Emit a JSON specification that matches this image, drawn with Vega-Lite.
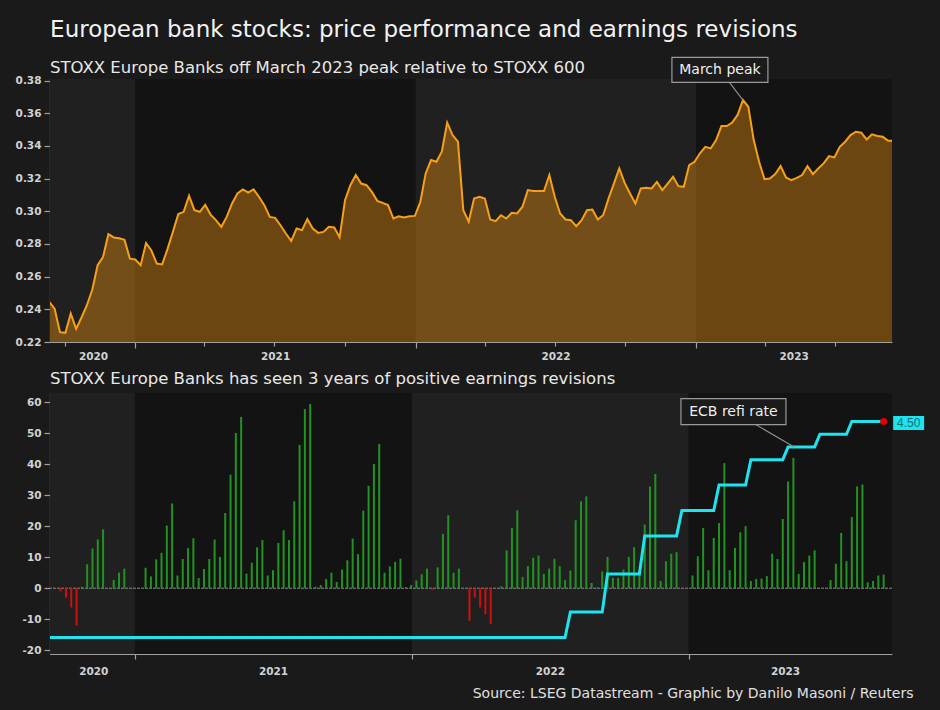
{
  "$schema": "https://vega.github.io/schema/vega-lite/v6.json",
  "background": "#1a1a1a",
  "padding": {"left": 15, "top": 18, "right": 22, "bottom": 10},
  "title": {"text": "European bank stocks: price performance and earnings revisions", "anchor": "start", "frame": "bounds", "dx": 35, "fontSize": 23, "fontWeight": "normal", "color": "#f2f2f2", "font": "DejaVu Sans", "offset": 15},
  "config": {
    "font": "DejaVu Sans",
    "view": {"stroke": null},
    "axis": {"domainColor": "#a0a0a0", "tickColor": "#a0a0a0", "labelColor": "#d2d2d2", "labelFont": "DejaVu Sans", "labelFontWeight": "bold", "labelFontSize": 10.5, "grid": false, "domainWidth": 1.2, "tickWidth": 1.2, "labelOverlap": false}
  },
  "spacing": 6,
  "datasets": {
    "bands": [
      {"date": "2020-09-01", "end": "2021-01-01", "shade": "light"},
      {"date": "2021-01-01", "end": "2022-01-01", "shade": "dark"},
      {"date": "2022-01-01", "end": "2023-01-01", "shade": "light"},
      {"date": "2023-01-01", "end": "2023-12-31", "shade": "dark"}
    ],
    "notes": [
      {"panel": "top", "date": "2023-02-01", "value": 0.3866, "label": "March peak", "tdate": "2023-03-03", "tvalue": 0.3681},
      {"panel": "bottom", "date": "2023-03-01", "value": 4.445, "label": "ECB refi rate", "tdate": "2023-05-20", "tvalue": 3.75}
    ],
    "rate": [
      {"date": "2020-09-11", "rate": 0},
      {"date": "2022-07-22", "rate": 0},
      {"date": "2022-07-29", "rate": 0.5},
      {"date": "2022-09-09", "rate": 0.5},
      {"date": "2022-09-16", "rate": 1.25},
      {"date": "2022-10-28", "rate": 1.25},
      {"date": "2022-11-04", "rate": 2.0},
      {"date": "2022-12-16", "rate": 2.0},
      {"date": "2022-12-23", "rate": 2.5},
      {"date": "2023-02-03", "rate": 2.5},
      {"date": "2023-02-10", "rate": 3.0},
      {"date": "2023-03-17", "rate": 3.0},
      {"date": "2023-03-24", "rate": 3.5},
      {"date": "2023-05-05", "rate": 3.5},
      {"date": "2023-05-12", "rate": 3.75},
      {"date": "2023-06-16", "rate": 3.75},
      {"date": "2023-06-23", "rate": 4.0},
      {"date": "2023-07-28", "rate": 4.0},
      {"date": "2023-08-04", "rate": 4.25},
      {"date": "2023-09-15", "rate": 4.25, "label": "4.50"}
    ],
    "weekly": [
      {"date": "2020-09-11", "price": 0.2445, "rev": 0},
      {"date": "2020-09-18", "price": 0.2404, "rev": 0},
      {"date": "2020-09-25", "price": 0.226, "rev": -1},
      {"date": "2020-10-02", "price": 0.2256, "rev": -3},
      {"date": "2020-10-09", "price": 0.2374, "rev": -6.2},
      {"date": "2020-10-16", "price": 0.228, "rev": -12},
      {"date": "2020-10-23", "price": 0.235, "rev": 0.5},
      {"date": "2020-10-30", "price": 0.2425, "rev": 7.7},
      {"date": "2020-11-06", "price": 0.252, "rev": 12.8},
      {"date": "2020-11-13", "price": 0.267, "rev": 15.7},
      {"date": "2020-11-20", "price": 0.272, "rev": 19},
      {"date": "2020-11-27", "price": 0.286, "rev": 0},
      {"date": "2020-12-04", "price": 0.284, "rev": 2.7},
      {"date": "2020-12-11", "price": 0.2835, "rev": 5},
      {"date": "2020-12-18", "price": 0.2825, "rev": 6.3},
      {"date": "2020-12-25", "price": 0.271, "rev": 0},
      {"date": "2021-01-01", "price": 0.2705, "rev": 0},
      {"date": "2021-01-08", "price": 0.267, "rev": 0},
      {"date": "2021-01-15", "price": 0.2806, "rev": 6.6},
      {"date": "2021-01-22", "price": 0.276, "rev": 3.8},
      {"date": "2021-01-29", "price": 0.268, "rev": 9.3},
      {"date": "2021-02-05", "price": 0.2675, "rev": 11.4},
      {"date": "2021-02-12", "price": 0.277, "rev": 20.2},
      {"date": "2021-02-19", "price": 0.2875, "rev": 27.3},
      {"date": "2021-02-26", "price": 0.2983, "rev": 4.1},
      {"date": "2021-03-05", "price": 0.2997, "rev": 9.4},
      {"date": "2021-03-12", "price": 0.3095, "rev": 12.9},
      {"date": "2021-03-19", "price": 0.3007, "rev": 16.1},
      {"date": "2021-03-26", "price": 0.2997, "rev": 3.3},
      {"date": "2021-04-02", "price": 0.304, "rev": 6.2},
      {"date": "2021-04-09", "price": 0.298, "rev": 9.4},
      {"date": "2021-04-16", "price": 0.2946, "rev": 15.7},
      {"date": "2021-04-23", "price": 0.2905, "rev": 10.1},
      {"date": "2021-04-30", "price": 0.2966, "rev": 24.2},
      {"date": "2021-05-07", "price": 0.3048, "rev": 36.6},
      {"date": "2021-05-14", "price": 0.311, "rev": 50},
      {"date": "2021-05-21", "price": 0.3134, "rev": 55.2},
      {"date": "2021-05-28", "price": 0.3114, "rev": 4.7},
      {"date": "2021-06-04", "price": 0.3134, "rev": 8.2},
      {"date": "2021-06-11", "price": 0.3089, "rev": 13.2},
      {"date": "2021-06-18", "price": 0.3038, "rev": 15.5},
      {"date": "2021-06-25", "price": 0.2966, "rev": 4.1},
      {"date": "2021-07-02", "price": 0.296, "rev": 5.8},
      {"date": "2021-07-09", "price": 0.2915, "rev": 14.6},
      {"date": "2021-07-16", "price": 0.2864, "rev": 18.7},
      {"date": "2021-07-23", "price": 0.2819, "rev": 15.5},
      {"date": "2021-07-30", "price": 0.2895, "rev": 28},
      {"date": "2021-08-06", "price": 0.2885, "rev": 46.2},
      {"date": "2021-08-13", "price": 0.2952, "rev": 57.7},
      {"date": "2021-08-20", "price": 0.2895, "rev": 59.4},
      {"date": "2021-08-27", "price": 0.2868, "rev": 0.5},
      {"date": "2021-09-03", "price": 0.2874, "rev": 1},
      {"date": "2021-09-10", "price": 0.2905, "rev": 3},
      {"date": "2021-09-17", "price": 0.2901, "rev": 5},
      {"date": "2021-09-24", "price": 0.284, "rev": 2},
      {"date": "2021-10-01", "price": 0.3068, "rev": 6},
      {"date": "2021-10-08", "price": 0.316, "rev": 9},
      {"date": "2021-10-15", "price": 0.3222, "rev": 16},
      {"date": "2021-10-22", "price": 0.317, "rev": 11},
      {"date": "2021-10-29", "price": 0.316, "rev": 25},
      {"date": "2021-11-05", "price": 0.3119, "rev": 33},
      {"date": "2021-11-12", "price": 0.3064, "rev": 40},
      {"date": "2021-11-19", "price": 0.3052, "rev": 46.5},
      {"date": "2021-11-26", "price": 0.3038, "rev": 5},
      {"date": "2021-12-03", "price": 0.2956, "rev": 7},
      {"date": "2021-12-10", "price": 0.297, "rev": 8.5},
      {"date": "2021-12-17", "price": 0.2962, "rev": 9.5},
      {"date": "2021-12-24", "price": 0.297, "rev": 0.3},
      {"date": "2021-12-31", "price": 0.2972, "rev": 1},
      {"date": "2022-01-07", "price": 0.3056, "rev": 2.5},
      {"date": "2022-01-14", "price": 0.3232, "rev": 4.5},
      {"date": "2022-01-21", "price": 0.3314, "rev": 6.3},
      {"date": "2022-01-28", "price": 0.3303, "rev": -0.5},
      {"date": "2022-02-04", "price": 0.3365, "rev": 6.7},
      {"date": "2022-02-11", "price": 0.3543, "rev": 17.5},
      {"date": "2022-02-18", "price": 0.3467, "rev": 23.5},
      {"date": "2022-02-25", "price": 0.3426, "rev": 5},
      {"date": "2022-03-04", "price": 0.3007, "rev": 6.3},
      {"date": "2022-03-11", "price": 0.2936, "rev": 0},
      {"date": "2022-03-18", "price": 0.3078, "rev": -10.5},
      {"date": "2022-03-25", "price": 0.3089, "rev": -3},
      {"date": "2022-04-01", "price": 0.3078, "rev": -6.2},
      {"date": "2022-04-08", "price": 0.295, "rev": -8.4},
      {"date": "2022-04-15", "price": 0.294, "rev": -11.6},
      {"date": "2022-04-22", "price": 0.2976, "rev": 0},
      {"date": "2022-04-29", "price": 0.2956, "rev": 0.6},
      {"date": "2022-05-06", "price": 0.2991, "rev": 12.2},
      {"date": "2022-05-13", "price": 0.2987, "rev": 19.4},
      {"date": "2022-05-20", "price": 0.3028, "rev": 25.1},
      {"date": "2022-05-27", "price": 0.313, "rev": 3.6},
      {"date": "2022-06-03", "price": 0.3124, "rev": 7.1},
      {"date": "2022-06-10", "price": 0.3124, "rev": 9.8},
      {"date": "2022-06-17", "price": 0.3124, "rev": 10.5},
      {"date": "2022-06-24", "price": 0.3222, "rev": 4.6},
      {"date": "2022-07-01", "price": 0.3089, "rev": 6.3},
      {"date": "2022-07-08", "price": 0.2987, "rev": 9.5},
      {"date": "2022-07-15", "price": 0.295, "rev": 7.1},
      {"date": "2022-07-22", "price": 0.2946, "rev": 2.6},
      {"date": "2022-07-29", "price": 0.2909, "rev": 5.7},
      {"date": "2022-08-05", "price": 0.2946, "rev": 21.9},
      {"date": "2022-08-12", "price": 0.3007, "rev": 28},
      {"date": "2022-08-19", "price": 0.3011, "rev": 29.6},
      {"date": "2022-08-26", "price": 0.295, "rev": 1.7},
      {"date": "2022-09-02", "price": 0.2976, "rev": 0.2},
      {"date": "2022-09-09", "price": 0.3078, "rev": 5.4},
      {"date": "2022-09-16", "price": 0.317, "rev": 10.1},
      {"date": "2022-09-23", "price": 0.3262, "rev": 3.3},
      {"date": "2022-09-30", "price": 0.3174, "rev": 3.3},
      {"date": "2022-10-07", "price": 0.3109, "rev": 6},
      {"date": "2022-10-14", "price": 0.3048, "rev": 10.1},
      {"date": "2022-10-21", "price": 0.314, "rev": 13.2},
      {"date": "2022-10-28", "price": 0.3144, "rev": 5.5},
      {"date": "2022-11-04", "price": 0.314, "rev": 20.5},
      {"date": "2022-11-11", "price": 0.318, "rev": 32.8},
      {"date": "2022-11-18", "price": 0.313, "rev": 36.8},
      {"date": "2022-11-25", "price": 0.317, "rev": 2.3},
      {"date": "2022-12-02", "price": 0.3211, "rev": 8.7},
      {"date": "2022-12-09", "price": 0.3154, "rev": 11.1},
      {"date": "2022-12-16", "price": 0.315, "rev": 11.6},
      {"date": "2022-12-23", "price": 0.3283, "rev": 0},
      {"date": "2022-12-30", "price": 0.3303, "rev": 0},
      {"date": "2023-01-06", "price": 0.3355, "rev": 4.1},
      {"date": "2023-01-13", "price": 0.3395, "rev": 10.3},
      {"date": "2023-01-20", "price": 0.3385, "rev": 19.4},
      {"date": "2023-01-27", "price": 0.3436, "rev": 5.8},
      {"date": "2023-02-03", "price": 0.3522, "rev": 16.2},
      {"date": "2023-02-10", "price": 0.3522, "rev": 21},
      {"date": "2023-02-17", "price": 0.3543, "rev": 40.3},
      {"date": "2023-02-24", "price": 0.359, "rev": 5.8},
      {"date": "2023-03-03", "price": 0.3681, "rev": 13},
      {"date": "2023-03-10", "price": 0.364, "rev": 18},
      {"date": "2023-03-17", "price": 0.3436, "rev": 20},
      {"date": "2023-03-24", "price": 0.3303, "rev": 2.3},
      {"date": "2023-03-31", "price": 0.3197, "rev": 3},
      {"date": "2023-04-07", "price": 0.3201, "rev": 3.1},
      {"date": "2023-04-14", "price": 0.3228, "rev": 3.9},
      {"date": "2023-04-21", "price": 0.3277, "rev": 11.1},
      {"date": "2023-04-28", "price": 0.3207, "rev": 9.4},
      {"date": "2023-05-05", "price": 0.3191, "rev": 22.3},
      {"date": "2023-05-12", "price": 0.3205, "rev": 34.4},
      {"date": "2023-05-19", "price": 0.3222, "rev": 42},
      {"date": "2023-05-26", "price": 0.3277, "rev": 4.6},
      {"date": "2023-06-02", "price": 0.3228, "rev": 8.4},
      {"date": "2023-06-09", "price": 0.3262, "rev": 10.5},
      {"date": "2023-06-16", "price": 0.3293, "rev": 12.2},
      {"date": "2023-06-23", "price": 0.3338, "rev": 0},
      {"date": "2023-06-30", "price": 0.333, "rev": 0},
      {"date": "2023-07-07", "price": 0.3395, "rev": 2.6},
      {"date": "2023-07-14", "price": 0.3426, "rev": 7.9},
      {"date": "2023-07-21", "price": 0.3467, "rev": 17.8},
      {"date": "2023-07-28", "price": 0.3487, "rev": 8.7},
      {"date": "2023-08-04", "price": 0.3481, "rev": 22.9},
      {"date": "2023-08-11", "price": 0.344, "rev": 32.8},
      {"date": "2023-08-18", "price": 0.3471, "rev": 33.4},
      {"date": "2023-08-25", "price": 0.3461, "rev": 1.9},
      {"date": "2023-09-01", "price": 0.3456, "rev": 2.3},
      {"date": "2023-09-08", "price": 0.3432, "rev": 4.1},
      {"date": "2023-09-15", "price": 0.3432, "rev": 4.4}
    ]
  },
  "vconcat": [
    {
      "width": 842,
      "height": 263,
      "title": {"text": "STOXX Europe Banks off March 2023 peak relative to STOXX 600", "anchor": "start", "frame": "group", "fontSize": 16.5, "fontWeight": "normal", "color": "#e8e8e8", "offset": -19.5},
      "layer": [
        {
          "data": {"name": "bands"},
          "mark": {"type": "rect", "clip": true},
          "encoding": {
            "x": {"field": "date", "type": "temporal"},
            "x2": {"field": "end"},
            "color": {"condition": {"test": "datum.shade == 'light'", "value": "#202020"}, "value": "#131313"}
          }
        },
        {
          "data": {"name": "weekly"},
          "mark": {"type": "area", "clip": true, "color": "#f39410", "opacity": 0.4},
          "encoding": {
            "x": {
              "field": "date", "type": "temporal",
              "scale": {"domain": [{"year": 2020, "month": 9, "date": 12}, {"year": 2023, "month": 9, "date": 13}], "padding": 0},
              "axis": {
                "title": null,
                "tickCount": 60,
                "values": [
                  {"year": 2020, "month": 10, "date": 1}, {"year": 2021, "month": 1, "date": 1}, {"year": 2021, "month": 4, "date": 1}, {"year": 2021, "month": 7, "date": 1},
                  {"year": 2021, "month": 10, "date": 1}, {"year": 2022, "month": 1, "date": 1}, {"year": 2022, "month": 4, "date": 1}, {"year": 2022, "month": 7, "date": 1},
                  {"year": 2022, "month": 10, "date": 1}, {"year": 2023, "month": 1, "date": 1}, {"year": 2023, "month": 4, "date": 1}, {"year": 2023, "month": 7, "date": 1},
                  {"year": 2020, "month": 11, "date": 7}, {"year": 2021, "month": 7, "date": 2}, {"year": 2022, "month": 7, "date": 2}, {"year": 2023, "month": 5, "date": 8}
                ],
                "labelExpr": "date(datum.value) == 1 ? '' : timeFormat(datum.value, '%Y')",
                "tickOpacity": {"condition": {"test": "date(datum.value) != 1", "value": 0}, "value": 1},
                "tickSize": {"condition": {"test": "month(datum.value) == 0 && date(datum.value) == 1", "value": 6}, "value": 4},
                "labelPadding": 5,
                "labelOverlap": false,
                "labelFlush": false,
                "labelBound": false
              }
            },
            "y": {
              "field": "price", "type": "quantitative",
              "scale": {"domain": [0.22, 0.381], "nice": false, "zero": false, "padding": 0},
              "axis": {"title": null, "tickCount": 40, "values": [0.22, 0.24, 0.26, 0.28, 0.3, 0.32, 0.34, 0.36, 0.38], "format": ".2f", "tickSize": 6, "labelPadding": 3, "labelOverlap": false}
            },
            "y2": {"datum": 0.22}
          }
        },
        {
          "data": {"name": "weekly"},
          "mark": {"type": "line", "clip": true, "color": "#f6a01a", "strokeWidth": 2},
          "encoding": {
            "x": {"field": "date", "type": "temporal"},
            "y": {"field": "price", "type": "quantitative"}
          }
        },
        {
          "data": {"name": "notes"},
          "transform": [{"filter": "datum.panel == 'top'"}],
          "mark": {"type": "rule", "color": "#8c8c8c", "strokeWidth": 1.2},
          "encoding": {
            "x": {"field": "date", "type": "temporal"},
            "x2": {"field": "tdate"},
            "y": {"field": "value", "type": "quantitative"},
            "y2": {"field": "tvalue"}
          }
        },
        {
          "data": {"name": "notes"},
          "transform": [{"filter": "datum.panel == 'top'"}],
          "mark": {"type": "rect", "width": 96, "height": 25, "fill": "#1b1b1b", "stroke": "#9a9a9a", "strokeWidth": 1.2},
          "encoding": {
            "x": {"field": "date", "type": "temporal"},
            "y": {"field": "value", "type": "quantitative"}
          }
        },
        {
          "data": {"name": "notes"},
          "transform": [{"filter": "datum.panel == 'top'"}],
          "mark": {"type": "text", "color": "#f0f0f0", "fontSize": 14, "align": "center", "baseline": "middle"},
          "encoding": {
            "x": {"field": "date", "type": "temporal"},
            "y": {"field": "value", "type": "quantitative"},
            "text": {"field": "label"}
          }
        }
      ]
    },
    {
      "width": 842,
      "height": 261,
      "title": {"text": "STOXX Europe Banks has seen 3 years of positive earnings revisions", "anchor": "start", "frame": "group", "fontSize": 16.5, "fontWeight": "normal", "color": "#e8e8e8", "offset": 6},
      "resolve": {"scale": {"y": "independent"}},
      "layer": [
        {
          "layer": [
            {
              "data": {"name": "bands"},
              "mark": {"type": "rect", "clip": true},
              "encoding": {
                "x": {"field": "date", "type": "temporal"},
                "x2": {"field": "end"},
                "color": {"condition": {"test": "datum.shade == 'light'", "value": "#202020"}, "value": "#131313"}
              }
            },
            {
              "data": {"values": [{}]},
              "mark": {"type": "rule", "color": "#8a8a8a", "strokeWidth": 1, "strokeDash": [3, 1]},
              "encoding": {"y": {"datum": 0}}
            },
            {
              "data": {"name": "weekly"},
              "mark": {"type": "bar", "size": 2, "clip": true},
              "encoding": {
                "x": {
                  "field": "date", "type": "temporal",
                  "scale": {"domain": [{"year": 2020, "month": 9, "date": 11}, {"year": 2023, "month": 9, "date": 26}], "padding": 0},
                  "axis": {
                    "title": "Source: LSEG Datastream - Graphic by Danilo Masoni / Reuters",
                    "titleAnchor": "end", "titleAlign": "right", "titleX": 863, "titleY": 43, "titleBaseline": "alphabetic",
                    "titleFontSize": 14, "titleFontWeight": "normal", "titleColor": "#e0e0e0", "titleFont": "DejaVu Sans",
                    "tickCount": 60,
                    "values": [
                      {"year": 2021, "month": 1, "date": 1}, {"year": 2022, "month": 1, "date": 1}, {"year": 2023, "month": 1, "date": 1},
                      {"year": 2020, "month": 11, "date": 7}, {"year": 2021, "month": 7, "date": 2}, {"year": 2022, "month": 7, "date": 2}, {"year": 2023, "month": 5, "date": 8}
                    ],
                    "labelExpr": "date(datum.value) == 1 ? '' : timeFormat(datum.value, '%Y')",
                    "tickOpacity": {"condition": {"test": "date(datum.value) != 1", "value": 0}, "value": 1},
                    "tickSize": 5,
                    "labelPadding": 7,
                    "labelOverlap": false,
                    "labelFlush": false,
                    "labelBound": false
                  }
                },
                "y": {
                  "field": "rev", "type": "quantitative",
                  "scale": {"domain": [-21.2, 62.9], "nice": false, "zero": false, "padding": 0},
                  "axis": {"title": null, "tickCount": 40, "values": [-20, -10, 0, 10, 20, 30, 40, 50, 60], "labelExpr": "'' + datum.value", "tickSize": 6, "labelPadding": 3, "labelOverlap": false}
                },
                "color": {"condition": {"test": "datum.rev < 0", "value": "#d01010"}, "value": "#229322"}
              }
            }
          ]
        },
        {
          "layer": [
            {
              "data": {"name": "rate"},
              "mark": {"type": "line", "color": "#1de4ee", "strokeWidth": 3},
              "encoding": {
                "x": {"field": "date", "type": "temporal"},
                "y": {"field": "rate", "type": "quantitative", "scale": {"domain": [-0.324, 4.811], "nice": false, "zero": false, "padding": 0}, "axis": null}
              }
            },
            {
              "data": {"name": "notes"},
              "transform": [{"filter": "datum.panel == 'bottom'"}],
              "mark": {"type": "rule", "color": "#8c8c8c", "strokeWidth": 1.2},
              "encoding": {
                "x": {"field": "date", "type": "temporal"},
                "x2": {"field": "tdate"},
                "y": {"field": "value", "type": "quantitative"},
                "y2": {"field": "tvalue"}
              }
            },
            {
              "data": {"name": "notes"},
              "transform": [{"filter": "datum.panel == 'bottom'"}],
              "mark": {"type": "rect", "width": 105, "height": 26, "fill": "#1b1b1b", "stroke": "#9a9a9a", "strokeWidth": 1.2},
              "encoding": {
                "x": {"field": "date", "type": "temporal"},
                "y": {"field": "value", "type": "quantitative"}
              }
            },
            {
              "data": {"name": "notes"},
              "transform": [{"filter": "datum.panel == 'bottom'"}],
              "mark": {"type": "text", "color": "#f0f0f0", "fontSize": 14, "align": "center", "baseline": "middle"},
              "encoding": {
                "x": {"field": "date", "type": "temporal"},
                "y": {"field": "value", "type": "quantitative"},
                "text": {"field": "label"}
              }
            },
            {
              "data": {"name": "rate"},
              "transform": [{"filter": "datum.label != null"}],
              "mark": {"type": "point", "filled": true, "color": "#e00000", "size": 50, "opacity": 1},
              "encoding": {
                "x": {"field": "date", "type": "temporal"},
                "y": {"field": "rate", "type": "quantitative"}
              }
            },
            {
              "data": {"name": "rate"},
              "transform": [{"filter": "datum.label != null"}],
              "mark": {"type": "rect", "width": 31, "height": 14, "xOffset": 25, "yOffset": 1.5, "fill": "#1de4ee"},
              "encoding": {
                "x": {"field": "date", "type": "temporal"},
                "y": {"field": "rate", "type": "quantitative"}
              }
            },
            {
              "data": {"name": "rate"},
              "transform": [{"filter": "datum.label != null"}],
              "mark": {"type": "text", "dx": 25, "dy": 1.5, "color": "#136d75", "fontSize": 12, "font": "Liberation Sans", "align": "center", "baseline": "middle"},
              "encoding": {
                "x": {"field": "date", "type": "temporal"},
                "y": {"field": "rate", "type": "quantitative"},
                "text": {"field": "label"}
              }
            }
          ]
        }
      ]
    }
  ]
}
